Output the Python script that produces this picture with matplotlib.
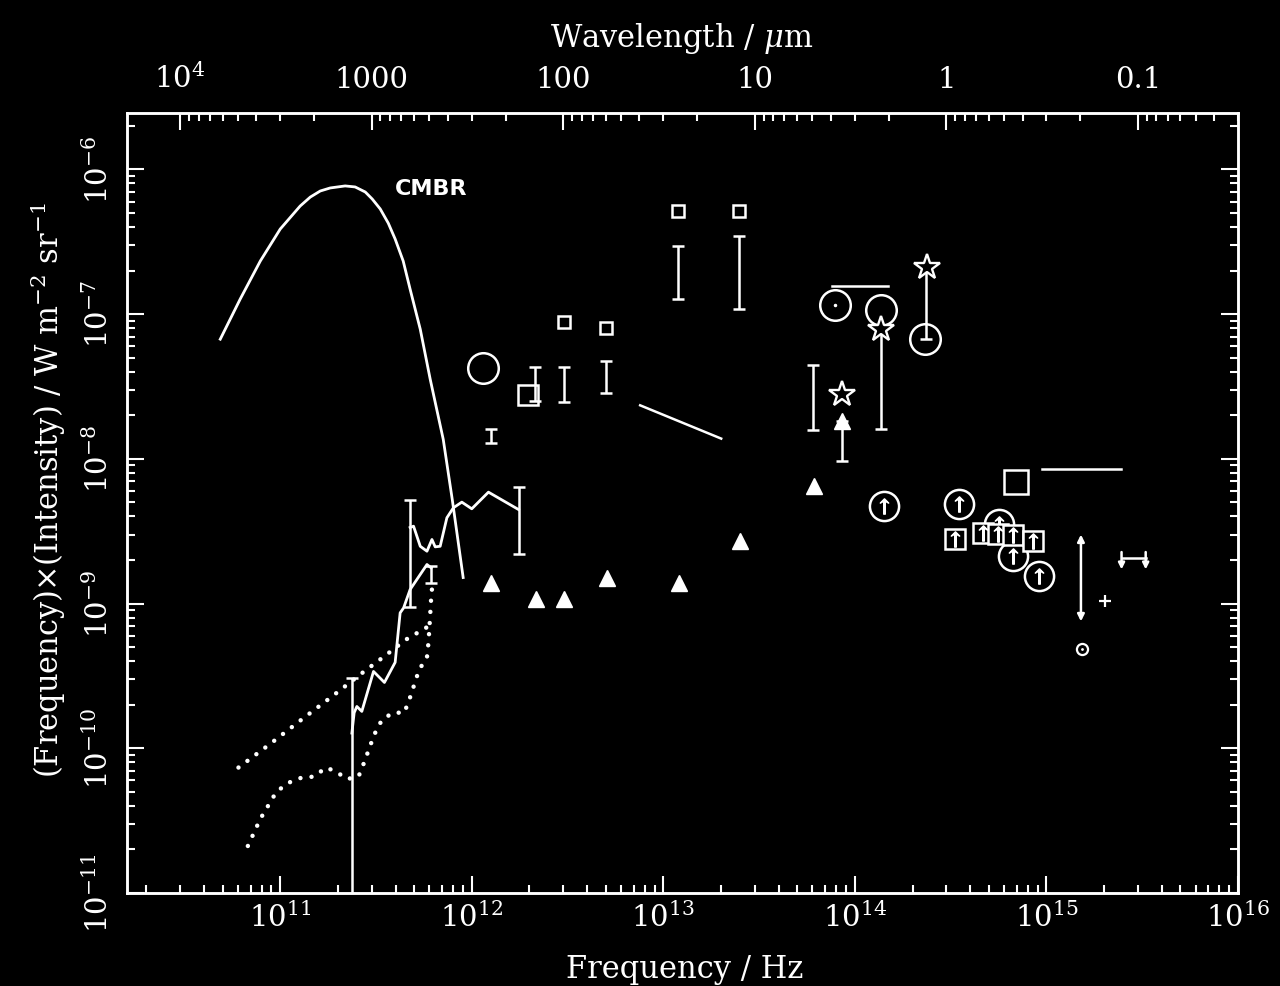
import numpy as np
import matplotlib.pyplot as plt
from matplotlib.ticker import LogLocator, NullFormatter

plt.rcParams["font.family"] = "DejaVu Serif"
plt.rcParams["mathtext.fontset"] = "dejavuserif"

# all values, kept as log10(frequency / Hz) and log10(nu I_nu / W m^-2 sr^-1)
cmbr_lognu = [10.687, 10.791, 10.896, 11.000, 11.104, 11.157, 11.209, 11.261,
              11.339, 11.391, 11.444, 11.480, 11.522, 11.564, 11.600, 11.642,
              11.678, 11.731, 11.757, 11.783, 11.851, 11.898, 11.955]
cmbr_logI = [-7.173, -6.896, -6.633, -6.412, -6.253, -6.191, -6.149, -6.128,
             -6.114, -6.121, -6.156, -6.204, -6.273, -6.371, -6.481, -6.633,
             -6.827, -7.104, -7.277, -7.450, -7.865, -8.280, -8.820]

# jagged solid spectra (lower and upper)
low_solid_lognu = [11.374, 11.386, 11.400, 11.426, 11.487, 11.544, 11.600, 11.626,
                   11.644, 11.678, 11.766, 11.788]
low_solid_logI = [-9.895, -9.754, -9.711, -9.745, -9.469, -9.545, -9.406, -9.064,
                  -9.030, -8.903, -8.730, -8.753]
up_solid_lognu = [11.678, 11.696, 11.731, 11.766, 11.792, 11.809, 11.835, 11.870,
                  11.904, 11.948, 12.000, 12.087, 12.244]
up_solid_logI = [-8.474, -8.465, -8.604, -8.638, -8.557, -8.608, -8.604, -8.407,
                 -8.338, -8.299, -8.345, -8.230, -8.350]

# dotted model curves
up_dot_lognu = [10.782, 10.948, 11.110, 11.275, 11.438, 11.548, 11.656, 11.774]
up_dot_logI = [-10.133, -9.969, -9.803, -9.637, -9.469, -9.360, -9.249, -9.157]
low_dot_lognu = [10.831, 10.896, 10.979, 11.038, 11.104, 11.177, 11.239, 11.292,
                 11.348, 11.409, 11.438, 11.491, 11.531, 11.591, 11.647, 11.675,
                 11.725, 11.766, 11.774, 11.779, 11.788, 11.795]
low_dot_logI = [-10.675, -10.488, -10.303, -10.241, -10.206, -10.195, -10.133, -10.161,
                -10.213, -10.195, -10.098, -9.905, -9.803, -9.752, -9.756, -9.660,
                -9.457, -9.372, -9.268, -9.164, -8.961, -8.857]

# vertical ranges with caps
bar_lognu = [11.376, 11.675, 12.244, 11.788, 12.101, 12.331, 12.479, 12.700,
             13.079, 13.396, 13.783, 13.935, 14.137, 14.370]
bar_lo = [-12.0, -9.021, -8.654, -8.857, -7.893, -7.600, -7.607, -7.542,
          -6.896, -6.966, -7.801, -8.015, -7.796, -7.173]
bar_hi = [-9.512, -8.287, -8.193, -8.742, -7.796, -7.362, -7.365, -7.323,
          -6.528, -6.463, -7.353, -7.739, -7.104, -6.677]

tri_lognu = [12.101, 12.336, 12.482, 12.705, 13.082, 13.401, 13.789, 13.935]
tri_logI = [-8.857, -8.968, -8.968, -8.822, -8.857, -8.569, -8.188, -7.739]

small_sq_lognu = [13.079, 13.396, 12.482, 12.700]
small_sq_logI = [-6.285, -6.285, -7.054, -7.097]

circ_lognu = [12.056, 13.897, 14.137, 14.366]
circ_logI = [-7.369, -6.938, -6.973, -7.173]

star_lognu = [13.935, 14.137, 14.375]
star_logI = [-7.554, -7.104, -6.677]

circ_up_lognu = [14.152, 14.545, 14.754, 14.827, 14.963]
circ_up_logI = [-8.327, -8.310, -8.453, -8.668, -8.806]

sq_up_lognu = [14.523, 14.667, 14.747, 14.827, 14.931]
sq_up_logI = [-8.557, -8.511, -8.520, -8.523, -8.569]

big_sq_lognu = [12.291, 14.840]
big_sq_logI = [-7.561, -8.161]
big_sq_size = [14, 17]

seg_lognu = [12.879, 13.302]
seg_logI = [-7.630, -7.860]
hline_lognu = [[13.879, 14.175], [14.975, 15.388]]
hline_logI = [-6.805, -8.073]

dbl_arrow_lognu = 15.180
dbl_arrow_logI = [-8.523, -9.123]
ring_lognu, ring_logI = 15.184, -9.312
plus_lognu, plus_logI = 15.306, -8.984
pair_lognu = [15.392, 15.518]
pair_logI = -8.684

freq_ticks = [1e11, 1e12, 1e13, 1e14, 1e15, 1e16]
freq_labels = [r"$10^{11}$", r"$10^{12}$", r"$10^{13}$", r"$10^{14}$", r"$10^{15}$", r"$10^{16}$"]
wave_ticks = [1e4, 1e3, 1e2, 1e1, 1, 0.1]
wave_labels = [r"$10^{4}$", "1000", "100", "10", "1", "0.1"]
int_ticks = [1e-11, 1e-10, 1e-9, 1e-8, 1e-7, 1e-6]
int_labels = [r"$10^{-11}$", r"$10^{-10}$", r"$10^{-9}$", r"$10^{-8}$", r"$10^{-7}$", r"$10^{-6}$"]

C_UM = 3e14  # speed of light in micron / s
NU_MIN, NU_MAX = 10 ** 10.2, 1e16
Y_MIN, Y_MAX = 1e-11, 10 ** -5.61


def p(v):
    return 10.0 ** np.asarray(v, dtype=float)


W = "white"
LW = 1.8

fig = plt.figure(figsize=(12.8, 9.86), dpi=100, facecolor="black")
ax = fig.add_axes([0.0992, 0.0943, 0.8680, 0.7911])
ax.set_facecolor("black")
ax.set_xscale("log")
ax.set_yscale("log")
ax.set_xlim(NU_MIN, NU_MAX)
ax.set_ylim(Y_MIN, Y_MAX)

# curves
ax.plot(p(cmbr_lognu), p(cmbr_logI), color=W, lw=2, solid_joinstyle="round")
ax.plot(p(low_solid_lognu), p(low_solid_logI), color=W, lw=2)
ax.plot(p(up_solid_lognu), p(up_solid_logI), color=W, lw=2)
for xs, ys in [(up_dot_lognu, up_dot_logI), (low_dot_lognu, low_dot_logI)]:
    ax.plot(p(xs), p(ys), color=W, lw=3.2, linestyle=(0, (0.01, 2.5)),
            dash_capstyle="round")

ax.plot(p(seg_lognu), p(seg_logI), color=W, lw=LW)
for xs, yv in zip(hline_lognu, hline_logI):
    ax.plot(p(xs), [p(yv)] * 2, color=W, lw=LW)

# capped ranges
lo = p(bar_lo)
hi = p(bar_hi)
mid = np.sqrt(lo * hi)
ax.errorbar(p(bar_lognu), mid, yerr=[mid - lo, hi - mid], fmt="none", ecolor=W,
            elinewidth=LW, capsize=4, capthick=LW)

# symbols
ax.plot(p(tri_lognu), p(tri_logI), ls="none", marker="^", ms=11, color=W, zorder=4)
ax.plot(p(small_sq_lognu), p(small_sq_logI), ls="none", marker="s", ms=9,
        mfc="none", mec=W, mew=LW)
ax.plot(p(circ_lognu), p(circ_logI), ls="none", marker="o", ms=22,
        mfc="none", mec=W, mew=LW)
ax.plot(p(circ_lognu[1]), p(circ_logI[1]), marker=".", ms=3, color=W)
for x, y, s in zip(big_sq_lognu, big_sq_logI, big_sq_size):
    ax.plot(p(x), p(y), marker="s", ms=s, mfc="none", mec=W, mew=LW)
ax.plot(p(star_lognu), p(star_logI), ls="none", marker="*", ms=19,
        mfc="black", mec=W, mew=1.7, zorder=5)

ax.plot(p(circ_up_lognu), p(circ_up_logI), ls="none", marker="o", ms=21,
        mfc="black", mec=W, mew=LW, zorder=4)
ax.plot(p(sq_up_lognu), p(sq_up_logI), ls="none", marker="s", ms=15,
        mfc="black", mec=W, mew=LW, zorder=5)
for xs, ys, z in [(circ_up_lognu, circ_up_logI, 4.5), (sq_up_lognu, sq_up_logI, 5.5)]:
    ax.plot(p(xs), p(ys), ls="none", marker=r"$\uparrow$", ms=11, color=W, zorder=z)

# UV limits
ax.annotate("", xy=(p(dbl_arrow_lognu), p(dbl_arrow_logI[1])),
            xytext=(p(dbl_arrow_lognu), p(dbl_arrow_logI[0])),
            arrowprops=dict(arrowstyle="<|-|>", color=W, lw=LW, mutation_scale=10,
                            shrinkA=0, shrinkB=0))
ax.plot(p(ring_lognu), p(ring_logI), marker="o", ms=8, mfc="none", mec=W, mew=1.6)
ax.plot(p(ring_lognu), p(ring_logI), marker=".", ms=2, color=W)
ax.plot(p(plus_lognu), p(plus_logI), marker="+", ms=9, mew=1.6, color=W)
ax.plot(p(pair_lognu), [p(pair_logI)] * 2, color=W, lw=LW)
for x in pair_lognu:
    ax.annotate("", xy=(p(x), p(pair_logI - 0.08)), xytext=(p(x), p(pair_logI + 0.04)),
                arrowprops=dict(arrowstyle="-|>", color=W, lw=LW, mutation_scale=9,
                                shrinkA=0, shrinkB=0))

ax.text(p(11.600), p(-6.135), "CMBR", family="DejaVu Sans", fontsize=16,
        fontweight="bold", color=W, va="center", ha="left")

# axes styling
for sp in ax.spines.values():
    sp.set_color(W)
    sp.set_linewidth(LW)

ax.set_xticks(freq_ticks, labels=freq_labels)
ax.set_yticks(int_ticks, labels=int_labels)
for axis in (ax.xaxis, ax.yaxis):
    axis.set_minor_locator(LogLocator(base=10, subs=np.arange(2, 10), numticks=30))
    axis.set_minor_formatter(NullFormatter())
ax.tick_params(which="both", direction="in", colors=W, right=True, top=False, width=1.5)
ax.tick_params(which="major", length=12, labelsize=21)
ax.tick_params(which="minor", length=6)
ax.tick_params(axis="x", which="major", pad=7)
ax.tick_params(axis="y", which="major", pad=9)
for lab in ax.get_yticklabels():
    lab.set_rotation(90)
    lab.set_va("center")

ax.set_xlabel("Frequency / Hz", fontsize=22, color=W)
ax.xaxis.set_label_coords(0.502, -0.078)
ax.set_ylabel("(Frequency)×(Intensity) / W m$^{-2}$ sr$^{-1}$", fontsize=22, color=W)
ax.yaxis.set_label_coords(-0.053, 0.517)

# wavelength axis on top
top = ax.twiny()
top.set_xscale("log")
top.set_xlim(C_UM / NU_MIN, C_UM / NU_MAX)
top.set_xticks(wave_ticks, labels=wave_labels)
top.xaxis.set_minor_locator(LogLocator(base=10, subs=np.arange(2, 10), numticks=30))
top.xaxis.set_minor_formatter(NullFormatter())
top.tick_params(which="both", direction="in", colors=W, width=1.5)
top.tick_params(which="major", length=12, labelsize=21, pad=14)
top.tick_params(which="minor", length=6)
for sp in top.spines.values():
    sp.set_color(W)
    sp.set_linewidth(LW)
top.set_xlabel(r"Wavelength / $\mu$m", fontsize=22, color=W)
top.xaxis.set_label_coords(0.4995, 1.085)

fig.savefig("out.png", dpi=100, facecolor="black")
